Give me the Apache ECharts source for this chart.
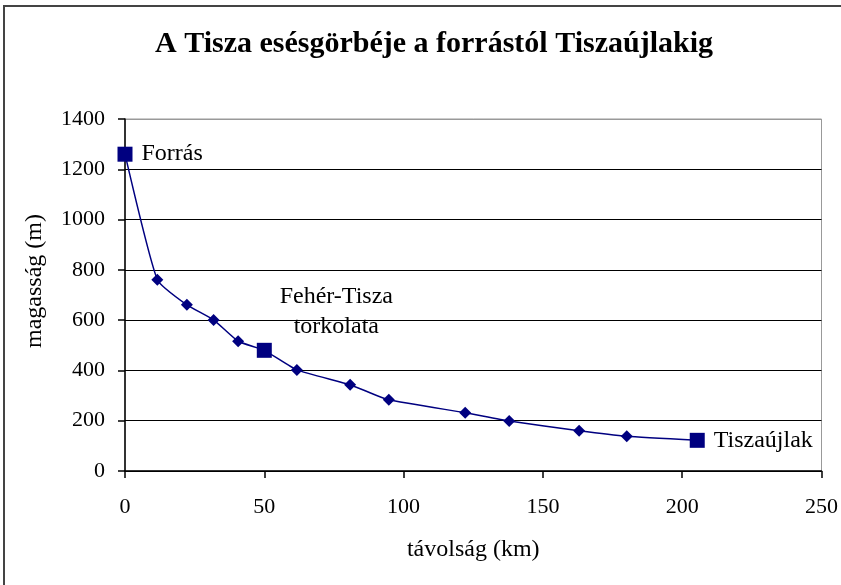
<!DOCTYPE html>
<html>
<head>
<meta charset="utf-8">
<script src="https://cdn.jsdelivr.net/npm/echarts@6/dist/echarts.min.js"></script>
<style>
  html, body { margin: 0; padding: 0; background: #fff; }
  #chart { position: absolute; left: 0; top: 0; width: 841px; height: 585px; }
  #frame { position: absolute; left: 3px; top: 5px; width: 850px; height: 600px;
           border-top: 2px solid #444; border-left: 2px solid #444; pointer-events: none; }
</style>
</head>
<body>
<div id="chart"></div>
<div id="frame"></div>
<script>
// távolság a forrástól (km) és magasság (m)
var distances = [0, 11.6, 22.2, 31.8, 40.6, 50, 61.7, 80.8, 94.7, 122.1, 137.9, 163, 180.1, 205.4]
var heights = [1260, 761, 661, 601, 516, 480, 402, 343, 283, 232, 199, 160, 138, 122]
// nevezetes pontok felirata ('' = nincs felirat)
var pointNames = ['Forrás', '', '', '', '', 'Fehér-Tisza\ntorkolata', '', '', '', '', '', '', '', 'Tiszaújlak']
var xTicks = [0, 50, 100, 150, 200, 250]
var yTicks = [0, 200, 400, 600, 800, 1000, 1200, 1400]

var font = '"Liberation Serif", "Times New Roman", serif'
var navy = '#000080'

var seriesData = distances.map(function(d, i) {
  var item = { value: [d, heights[i]] }
  if (pointNames[i]) {
    item.symbol = 'rect'
    item.symbolSize = 15
    if (i === 5) {
      item.label = {
        show: true,
        formatter: pointNames[i],
        position: 'inside',
        align: 'center',
        verticalAlign: 'middle',
        offset: [72, -39],
        lineHeight: 30
      }
    } else {
      item.label = { show: true, formatter: pointNames[i], position: 'right', distance: 9 }
    }
  }
  return item
})

var chart = echarts.init(document.getElementById('chart'))
chart.setOption({
  animation: false,
  backgroundColor: '#fff',
  textStyle: { fontFamily: font, color: '#000' },
  title: {
    text: 'A Tisza esésgörbéje a forrástól Tiszaújlakig',
    left: 150,
    top: 24,
    textStyle: { fontFamily: font, fontSize: 30, fontWeight: 'bold', color: '#000' }
  },
  grid: {
    left: 125,
    right: 18,
    top: 119,
    bottom: 114,
    show: true,
    borderColor: '#999',
    borderWidth: 1
  },
  xAxis: {
    type: 'value',
    min: xTicks[0],
    max: xTicks[xTicks.length - 1],
    interval: 50,
    name: 'távolság (km)',
    nameLocation: 'middle',
    nameGap: 67,
    nameTextStyle: { fontFamily: font, fontSize: 24, color: '#000' },
    axisLine: { show: true, lineStyle: { color: '#000', width: 1.5 } },
    axisTick: { show: true, length: 7, lineStyle: { color: '#000', width: 1.5 } },
    axisLabel: { fontFamily: font, fontSize: 22, color: '#000', margin: 25 },
    splitLine: { show: false }
  },
  yAxis: {
    type: 'value',
    min: yTicks[0],
    max: yTicks[yTicks.length - 1],
    interval: 200,
    name: 'magasság (m)',
    nameLocation: 'middle',
    nameGap: 78,
    nameTextStyle: { fontFamily: font, fontSize: 24, color: '#000', padding: [0, 0, 0, 28] },
    axisLine: { show: true, lineStyle: { color: '#000', width: 1.5 } },
    axisTick: { show: true, length: 7, lineStyle: { color: '#000', width: 1.5 } },
    axisLabel: {
      fontFamily: font, fontSize: 22, color: '#000', margin: 20,
      formatter: function(value) { return String(value) }
    },
    splitLine: {
      show: true,
      lineStyle: { color: ['#000', '#000', '#000', '#000', '#000', '#000', '#000', '#999'], width: 1.2 }
    }
  },
  series: [
    {
      type: 'line',
      data: seriesData,
      smooth: 0.15,
      symbol: 'diamond',
      symbolSize: 12,
      itemStyle: { color: navy },
      lineStyle: { color: navy, width: 1.5 },
      label: { fontFamily: font, fontSize: 24, color: '#000' }
    }
  ]
})
</script>
</body>
</html>
